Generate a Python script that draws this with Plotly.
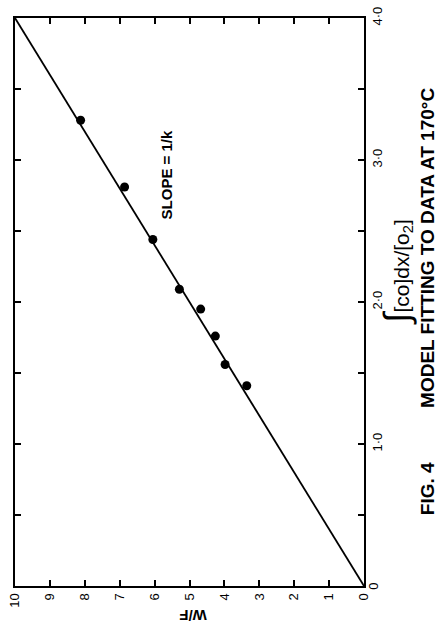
import plotly.graph_objects as go

# Data
integral_vals = [3.28, 2.81, 2.44, 2.09, 1.95, 1.76, 1.56, 1.41]   # ∫[CO]dx/[O2]
wf_vals = [8.12, 6.86, 6.05, 5.29, 4.68, 4.26, 3.98, 3.36]          # W/F
fit_integral = [0.0, 4.0]
fit_wf = [0.0, 10.0]

wf_ticks = list(range(0, 11))
wf_ticktext = [str(v) for v in wf_ticks]
int_ticks = [1.0, 2.0, 3.0, 4.0]
int_ticktext = ["1·0", "2·0", "3·0", "4·0"]
int_origin_label = "0"

W, H = 438, 634
L, R, T, B = 7, 364, 14, 586

def px(x):
    return (x - L) / (R - L)

def py(y):
    return (B - y) / (B - T)

FONT = "Liberation Sans, Arial, Helvetica, sans-serif"

fig = go.Figure()
fig.add_trace(go.Scatter(x=fit_wf, y=fit_integral, mode="lines",
                         line=dict(color="black", width=1.8),
                         hoverinfo="skip", showlegend=False))
fig.add_trace(go.Scatter(x=wf_vals, y=integral_vals, mode="markers",
                         marker=dict(color="black", size=9),
                         showlegend=False))

fig.update_layout(
    width=W, height=H,
    margin=dict(l=L, r=W - R, t=T, b=H - B, pad=0),
    paper_bgcolor="white", plot_bgcolor="white",
    font=dict(family=FONT, color="black"),
    xaxis=dict(range=[10, 0], tickvals=wf_ticks, ticktext=wf_ticktext,
               ticks="inside", ticklen=6, tickwidth=1.5, tickcolor="black",
               showline=True, linecolor="black", linewidth=2, mirror="ticks",
               showgrid=False, zeroline=False, tickangle=-90,
               tickfont=dict(size=13, family=FONT), fixedrange=True),
    yaxis=dict(range=[0, 4], side="right", tickvals=int_ticks, ticktext=int_ticktext,
               ticks="inside", ticklen=6, tickwidth=1.5, tickcolor="black",
               minor=dict(dtick=0.5, tick0=0, ticks="inside", ticklen=6,
                          tickwidth=1.5, tickcolor="black", showgrid=False),
               showline=True, linecolor="black", linewidth=2, mirror="ticks",
               showgrid=False, zeroline=False, tickangle=-90,
               tickfont=dict(size=13, family=FONT), fixedrange=True),
)

ann = [
    dict(text=int_origin_label, x=px(373), y=py(586), font=dict(size=13)),
    dict(text="<b>SLOPE = 1/k</b>", x=px(162), y=py(172), font=dict(size=15)),
    dict(text="<b>W/F</b>", x=px(189), y=py(615), font=dict(size=15), textangle=180),
    dict(text="<span style='font-size:36px'>∫</span>[co]dx/[o<sub>2</sub>]",
         x=px(397), y=py(270), font=dict(size=21)),
    dict(text="<b>MODEL FITTING TO DATA AT 170°C</b>", x=px(429), y=py(246),
         font=dict(size=19)),
    dict(text="<b>FIG. 4</b>", x=px(429), y=py(488), font=dict(size=19)),
]
for a in ann:
    a.setdefault("textangle", -90)
    fig.add_annotation(xref="paper", yref="paper", showarrow=False,
                       xanchor="center", yanchor="middle", **a)

fig.write_html("out.html")
